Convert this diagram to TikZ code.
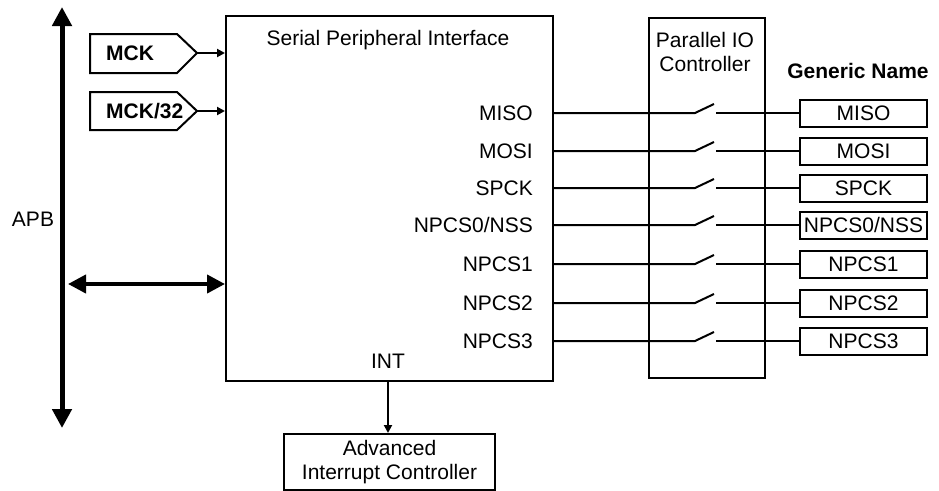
\documentclass[tikz,border=0pt]{standalone}
\usepackage{fontspec}
\setmainfont{Liberation Sans}
\usetikzlibrary{arrows.meta}
\tikzset{
  x=1pt, y=-1pt,
  every node/.style={font=\fontsize{21}{24.5}\selectfont},
  thin line/.style={line width=2pt},
  blk/.style={draw, thin line, inner sep=0pt},
  lbl/.style={inner sep=0pt},
  bold lbl/.style={inner sep=0pt, font=\fontsize{21}{24.5}\selectfont\bfseries},
  bus/.style={line width=5pt, {Triangle[length=19pt,width=19pt]}-{Triangle[length=19pt,width=19pt]}},
  dbl/.style={line width=4pt, {Triangle[length=18pt,width=18pt]}-{Triangle[length=18pt,width=18pt]}},
  sig/.style={thin line, -{Triangle[length=8pt,width=8pt]}},
}
\begin{document}
\begin{tikzpicture}
\useasboundingbox (0,0) rectangle (939,490);

% main blocks
\node[blk, minimum width=327pt, minimum height=365pt, anchor=north west] (spi) at (225,15) {};
\node[lbl] (spititle) at (388,40) {Serial Peripheral Interface};
\node[blk, minimum width=116pt, minimum height=360pt, anchor=north west] (pio) at (648,17) {};
\node[lbl, align=center] (piotitle) at (705,52) {Parallel IO\\Controller};
\node[bold lbl] (generic) at (858,71) {Generic Name};
\node[blk, minimum width=211pt, minimum height=56pt, anchor=north west, align=center] (aic) at (283,433) {Advanced\\Interrupt Controller};
\node[lbl] (int) at (388,361) {INT};

% APB bus
\coordinate (apbtop) at (62,7);
\coordinate (apbbot) at (62,428);
\draw[bus] (apbtop) -- (apbbot);
\node[lbl] (apb) at (33,219) {APB};
\coordinate (dblleft) at (68,284);
\draw[dbl] (dblleft) -- (dblleft -| spi.west);

% clock inputs
\draw[thin line] (90,34) -- (177,34) -- (197,53) -- (177,73) -- (90,73) -- cycle;
\coordinate (mcktip) at (197,53);
\node[bold lbl, anchor=west] (mck) at (106,53) {MCK};
\draw[sig] (mcktip) -- (mcktip -| spi.west);
\draw[thin line] (90,92) -- (177,92) -- (197,111) -- (177,130) -- (90,130) -- cycle;
\coordinate (mcktwotip) at (197,111);
\node[bold lbl, anchor=west] (mcktwo) at (106,111) {MCK/32};
\draw[sig] (mcktwotip) -- (mcktwotip -| spi.west);

% interrupt
\draw[sig] (int |- spi.south) -- (int |- aic.north);

% signals
\foreach \name/\yy/\i in {MISO/113/1, MOSI/151/2, SPCK/188/3, {NPCS0/NSS}/225/4, NPCS1/264/5, NPCS2/303/6, NPCS3/341/7}{
  \node[lbl, anchor=east] (s\i) at (533,\yy) {\name};
  \node[blk, minimum width=127pt, minimum height=27pt] (g\i) at (863.5,\yy) {\name};
  \coordinate (swa\i) at (695,\yy);
  \coordinate (swb\i) at (714,\yy-9);
  \coordinate (swc\i) at (716,\yy);
  \draw[thin line] (s\i -| spi.east) -- (swa\i) -- (swb\i);
  \draw[thin line] (swc\i) -- (g\i.west);
}
\end{tikzpicture}
\end{document}
